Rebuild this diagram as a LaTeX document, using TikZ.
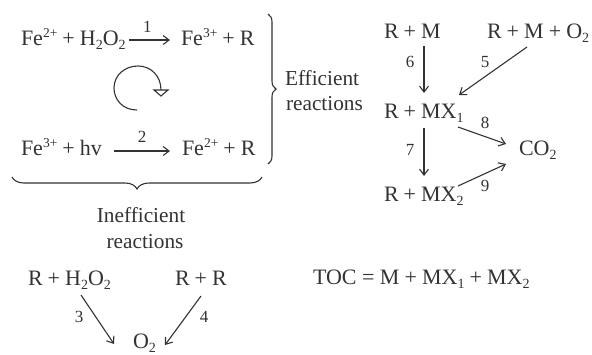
\documentclass[tikz,border=0pt]{standalone}
\usepackage{fontspec}
\setmainfont{Liberation Serif}
\usetikzlibrary{arrows.meta,decorations.pathreplacing}
\definecolor{ink}{gray}{0.2}
\newcommand{\sbs}[1]{\raisebox{-0.2em}{\fontsize{14}{15}\selectfont #1}}
\newcommand{\sps}[1]{\raisebox{0.36em}{\fontsize{13.5}{14}\selectfont #1}}
\newcommand{\pl}{\hspace{0.23em}+\hspace{0.23em}}
\tikzset{
 chem/.style={anchor=base west,inner sep=0pt,outer sep=0pt,text=ink,font=\fontsize{22}{23}\selectfont},
 word/.style={chem,font=\fontsize{21.3}{23}\selectfont},
 lab/.style={inner sep=0pt,text=ink,font=\fontsize{17}{18}\selectfont},
 arr/.style={draw=ink,line width=1.1pt,-{Straight Barb[length=6pt,width=9pt,line width=1.1pt]}},
 brc/.style={draw=ink,line width=1.1pt}
}
\begin{document}
\begin{tikzpicture}[x=1pt,y=-1pt]
\useasboundingbox (0,0) rectangle (592,354);
\clip (0,0) rectangle (592,354);
\fill[white] (0,0) rectangle (592,354);
% left block
\node[chem] (a) at (21,45) {Fe\sps{2+}\pl H\sbs{2}O\sbs{2}};
\node[chem] (b) at (181,45) {Fe\sps{3+}\pl R};
\node[chem] (c) at (21,155) {Fe\sps{3+}\pl hv};
\node[chem] (d) at (182,155) {Fe\sps{2+}\pl R};
\path[arr] ([shift={(108,-5)}]a.base west) -- node[lab,pos=.45,yshift=13pt] {1} ([shift={(-11,-5)}]b.base west);
\path[arr] ([shift={(93,-4)}]c.base west) -- node[lab,pos=.5,yshift=14pt] {2} ([shift={(-12,-4)}]d.base west);
% cycle arrow
\draw[ink,line width=1.1pt] (137,110) .. controls (122,110) and (114,99) .. (114,88) .. controls (114,75) and (125,66) .. (138,66) .. controls (151,66) and (161,76) .. (161,90);
\draw[ink,line width=1.1pt] (154,90) -- (168,90) -- (161,96) -- cycle;
% braces
\draw[brc,decorate,decoration={brace,amplitude=8pt}] (268,14) -- (268,164);
\draw[brc,decorate,decoration={brace,amplitude=12pt}] (262,177) -- (12,177);
\node[word] (eff) at (285,85) {Efficient};
\node[word] (rea) at (286,110) {reactions};
\node[word,anchor=base] (ineff) at (141,222) {Inefficient};
\node[word,anchor=base] (rea2) at (145,248) {reactions};
% right block
\node[chem] (e) at (384,38) {R\pl M};
\node[chem] (f) at (487,38) {R\pl M\pl O\sbs{2}};
\node[chem] (g) at (384,118) {R\pl MX\sbs{1}};
\node[chem] (h) at (384,201) {R\pl MX\sbs{2}};
\node[chem] (co) at (519,155) {CO\sbs{2}};
\path[arr] ([shift={(40,8)}]e.base west) -- node[lab,pos=.33,xshift=-14pt] {6} ([shift={(40,-25)}]g.base west);
\path[arr] ([shift={(40,9)}]f.base west) -- ([shift={(75,-23)}]g.base west);
\node[lab] (l5) at (485,62) {5};
\path[arr] ([shift={(40,10)}]g.base west) -- node[lab,pos=.45,xshift=-14pt] {7} ([shift={(40,-25)}]h.base west);
\path[arr] ([shift={(74,9)}]g.base west) -- ([shift={(-13,-11)}]co.base west);
\node[lab] (l8) at (485,123) {8};
\path[arr] ([shift={(74,-15)}]h.base west) -- ([shift={(-13,9)}]co.base west);
\node[lab] (l9) at (485,186) {9};
% bottom
\node[chem] (i) at (28,285) {R\pl H\sbs{2}O\sbs{2}};
\node[chem] (j) at (175,285) {R\pl R};
\node[chem] (o) at (133,348) {O\sbs{2}};
\node[chem] (toc) at (313,284) {TOC = M\pl MX\sbs{1}\pl MX\sbs{2}};
\path[arr] ([shift={(53,10)}]i.base west) -- ([shift={(-19,-4)}]o.base west);
\node[lab] (l3) at (79,317) {3};
\path[arr] ([shift={(26,11)}]j.base west) -- ([shift={(32,-3)}]o.base west);
\node[lab] (l4) at (204,317) {4};
\end{tikzpicture}
\end{document}
